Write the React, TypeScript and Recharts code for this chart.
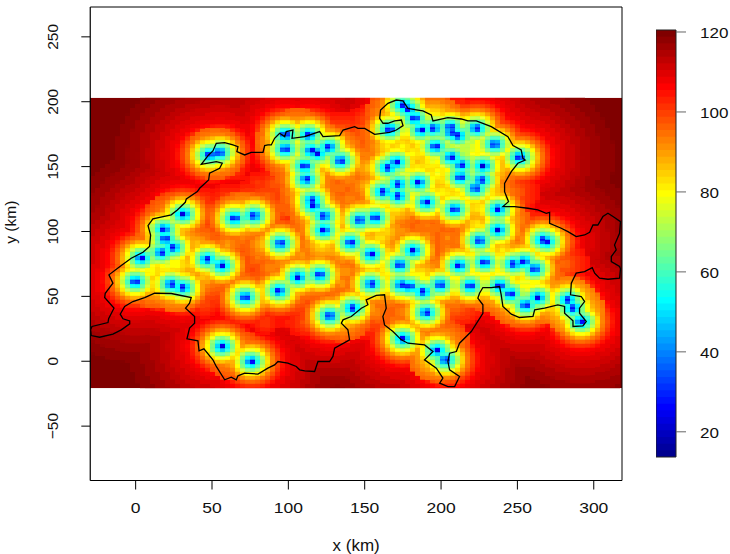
import React from "react";
import { ScatterChart, Scatter, XAxis, YAxis, ReferenceArea } from "recharts";

const outlineX = [-29.5,-28.6,-18.1,-17.7,-14.2,-20.3,-19.9,-14.9,-17.5,-9.4,-2.9,4.8,9.1,9.8,8.1,11.3,23.3,27.3,32.5,33.2,40.4,41.9,47.8,48.4,55.0,56.7,52.8,43.0,47.8,50.6,52.8,58.3,63.7,67.0,66.3,71.4,75.7,83.4,84.5,86.6,88.8,91.0,94.3,97.6,98.6,103.0,102.4,110.7,120.5,122.7,133.6,135.8,143.4,145.6,150.0,156.5,166.3,170.7,175.1,174.0,169.6,165.2,162.0,159.8,160.4,165.2,170.7,175.1,178.3,184.9,188.1,193.6,194.7,204.5,213.2,217.6,223.1,232.9,243.8,247.1,252.5,253.6,255.1,250.3,246.0,241.6,241.6,244.2,240.5,248.2,256.9,263.4,268.9,271.1,271.1,278.7,283.1,288.5,294.0,297.3,299.5,302.7,306.0,309.3,312.6,317.5,316.9,313.6,314.7,311.5,311.5,316.9,317.5,316.9,309.3,303.8,300.6,299.0,294.0,288.5,285.3,284.8,291.8,294.0,290.7,290.7,295.1,292.9,286.4,286.4,280.9,280.9,276.5,267.8,261.3,260.2,251.4,246.0,240.5,239.4,238.3,232.9,227.4,225.2,224.1,227.4,227.4,219.8,212.1,210.0,205.6,204.5,205.6,212.1,208.9,204.5,199.1,201.2,196.9,189.2,194.7,189.2,178.3,174.0,168.5,163.0,161.9,164.1,163.0,157.6,151.0,152.1,147.8,141.2,135.8,134.7,139.0,140.1,130.3,129.2,127.0,119.4,117.2,110.7,107.4,105.2,99.7,93.2,91.0,86.6,80.1,71.4,67.0,65.9,62.6,58.3,52.8,50.6,44.7,41.5,40.8,33.6,35.3,38.6,38.6,32.7,35.3,36.4,23.3,12.4,5.9,-1.8,-7.2,-10.1,-8.3,-3.9,-3.9,-9.4,-14.9,-23.6,-29.1,-29.5];
const outlineY = [24.2,26.8,29.8,32.7,40.9,49.1,52.4,60.2,66.6,73.8,79.4,84.0,88.4,97.3,104.5,109.7,112.8,116.6,122.5,125.1,130.7,133.3,139.7,144.9,148.7,152.6,153.8,151.8,159.0,162.1,168.0,168.5,166.7,165.4,161.5,159.0,161.0,161.0,166.2,166.7,166.7,171.8,175.7,173.1,177.0,178.2,171.8,173.1,177.0,173.1,173.9,178.2,180.8,179.5,179.5,174.9,176.4,178.2,181.6,185.9,185.2,183.4,183.4,187.2,193.6,198.8,201.3,200.6,194.9,193.6,192.9,189.8,185.2,187.7,186.7,185.2,185.2,180.8,173.1,166.2,162.8,156.4,155.1,152.6,146.1,137.1,130.7,123.0,119.2,119.2,117.9,116.6,114.0,114.8,106.3,102.5,99.9,96.1,97.3,99.4,105.0,105.0,111.5,114.0,111.5,107.6,98.6,89.6,85.8,80.7,76.8,73.0,71.2,64.0,63.2,64.0,67.9,72.2,69.1,67.9,60.2,51.2,49.9,46.0,40.9,37.0,30.6,27.3,26.8,31.1,37.0,42.2,43.4,40.9,39.6,34.5,33.7,36.3,42.2,51.2,57.6,56.8,56.8,52.4,48.6,43.5,37.0,22.9,13.9,7.5,6.2,-0.2,-6.6,-11.8,-19.5,-19.5,-16.9,-13.0,-5.3,1.1,7.5,12.6,13.9,16.5,22.9,28.0,34.5,40.9,51.2,50.7,47.3,43.5,40.9,34.5,31.9,29.3,24.2,16.5,10.1,3.7,-0.2,-0.2,-7.9,-7.4,-6.6,-4.0,-1.5,-0.2,-2.8,-5.3,-9.9,-9.2,-11.2,-14.3,-12.3,-14.3,-4.0,1.1,9.6,8.0,15.7,17.3,25.5,29.3,34.5,40.9,44.7,49.1,52.2,52.4,49.1,46.0,42.2,36.3,32.7,31.1,28.8,24.2,20.9,18.5,19.8,24.2];

const stationX = [48.4,55,31,18.5,19.4,64.8,77.5,24.6,16.8,3.7,-0.2,23.3,31,46.7,56.5,71.8,56.7,75.7,98,98,113.3,115,118.9,126.4,134.2,110.7,111.7,115.5,116.5,123.3,123.3,94.9,140.8,146.7,156.9,165.2,170.7,171.8,171.8,162,185.3,190.3,175,178.3,182.7,166.3,187,195.1,196.4,206.2,206.7,211,223.1,235.1,206.7,213.2,227.4,212.6,226.3,222.6,208.9,237.2,237.2,225.2,251.4,266.7,268.9,211.7,228.5,247.5,254.3,261.3,219.1,238.3,245.5,255.4,263.4,283.1,286.4,291.8,154.3,172.9,181.6,106.3,120.5,93.8,154.3,173.9,179.4,188.1,199.5,190.3,141.9,127,175,197.3,203];
const stationY = [159,160.8,113.3,101.7,94.3,110.2,112.2,87.6,83.8,79.4,61.4,59.4,56.8,78.6,73.8,49.4,11.4,-0.2,174.4,163.6,174.4,162.3,160.3,164.9,154.6,150.5,140.2,124,120,112,101,90.9,91.4,108.9,110.7,149.2,153.3,136.4,127.4,130.7,137.7,122.5,197.5,194.4,187.2,178.8,178.2,179.5,165.4,180.3,176.4,173.9,179.5,167.2,157.2,151.3,150.5,141.8,139.7,133.3,117.1,117.1,101.2,93,157.2,93.5,92.2,73.8,76.3,75,76.8,71.2,58.1,58.1,51.9,43.4,49.1,47.3,40.9,30.6,82.5,74.3,85.3,64.8,66.6,54.2,59.6,58.9,57.6,53.7,58.9,37.6,40.9,35,17.3,8.3,1.1];

const gapX = [65,80,91,55,45,29,95,134,143,128,152,150,152,150,174,185,196,204,205,190,223,34,80,82,88,108,137,130,73.5,60,45,174,158.6,152,99.7,115,209,217,272,248,258,276,278,250,40,150,160,205,190,185,220,200,240,205,180,165,245,130,100,218,220,200,195,75,85,100,100,70,85,65,40,50,60,45,110,120,95,100,110,140,140,150,135,150,135,145,165,205,215,190,175,215,200,180,150,160,170,210,215,195,270,270,280,250,245,240,85,60,45,85,120,110,135,105,160,140,150,130,135,210];
const gapY = [147,137,136,128,105,124,118,133,125,140,174,160,149,135,110,103,103,95,105,95,118,74,80,64,72,82,69,85,64,90,65,38,38,28,41,47,46,36,66,105,105,70,60,125,90,90,95,130,150,165,165,140,85,65,70,100,130,50,30,165,155,170,155,125,125,130,145,95,95,90,125,115,125,125,75,85,75,95,100,125,140,120,120,95,80,70,65,85,95,105,100,105,115,120,50,50,30,60,50,50,60,80,75,110,100,120,50,50,45,30,40,30,60,50,185,170,185,185,175,190];
const gapLevel = [18.3,18,16.2,19.5,17.2,19.5,15.2,14.3,14,14,14.3,13.5,11.3,12,13.5,14.3,14.3,13.5,14,12.7,10,11.3,14.3,15.2,13.5,12.7,12.7,12,15.2,12.7,11.3,13.5,13.5,17.2,19.5,17,13.5,19.5,14.3,16.2,17,16,17,18,11.3,10.7,10,10,10,10,10,10,10,10,10,10.7,14,14,19.5,7.8,7.5,7.8,8.5,16,15,15,15.5,14,14,14,19,16.5,17,18,13.5,13,13,14,14,13.5,13.5,13,14,12,12.5,13,11,13,13,14,13,13,13,11.5,14,14,14,12,14,12,14.5,13,15,16,14,13,15,16,17,18,15,17,13,14,16,14.5,17,19,15,16];

// Ridges of low values along chains of neighbouring stations.
const ridgeX = [98,106,106,122,130,112,104,111,113,119,123,151,144,147,163,177,165,163,186,192,205,213,220,224,232,242,250,258,255,245,238,238,250,262,231,233,238,223,216,228,215,222,215,220,230,232,220,200,190,200,195,188,205,198,200,210,185,178,170,180,165,170,182,175,165,175,170,20,12,28,26,15,10,25,25,51,38,27,12,52,70,100,113,85,133,122,135,65,288,283,198,200,178];
const ridgeY = [169,175,163,163,160,156,157,145,132,116,106,110,100,87,78,80,70,60,65,57,58,65,75,66,58,55,47,47,60,65,68,75,75,60,85,96,108,105,165,165,160,155,145,130,130,150,170,172,172,160,185,185,150,145,130,125,145,145,143,130,140,120,160,165,165,190,190,75,82,90,75,60,70,100,110,76,76,58,60,160,111,60,66,90,90,90,35,5,38,45,4,13,23];
const ridgeLevel = [8.5,9,8.5,8,8.5,9,9.5,9,9,8.5,8.5,8.5,9,9.5,8.5,8.5,9,8.5,9,8,9,9,9.5,9,8.5,8,8.5,8,8.5,9,9,9,8,9,9,9,8.5,10,7.5,8,7.5,8,8,9,9,8.5,8,8,8.5,8,8,8,8.5,9,9.5,9,8.5,8.5,8,8.5,8.5,9,9.5,9.5,10,8.5,9.5,8.5,9,9,9,9,9,9.5,10,8.5,10,8,10,8.5,8.5,10,9,11,11,10,9,10,7.5,7,8,10,11];

const fieldColors = ["#8F0000","#9F0000","#AF0000","#BF0000","#CF0000","#DF0000","#EF0000","#FF0000","#FF1000","#FF2000","#FF3000","#FF4000","#FF5000","#FF6000","#FF7000","#FF8000","#FF9000","#FFA000","#FFB000","#FFC000","#FFD000","#FFE000","#FFF000","#FFFF00","#DFFF20","#BFFF40","#9FFF60","#80FF80","#60FF9F","#40FFBF","#20FFDF","#00FFFF","#00BFFF","#0080FF","#0040FF","#0000FF","#0000CF"];
const fieldReachKm = [62,54,47,41,36,31,26.5,23,21.5,20.5,19.4,18.3,17.4,16.5,15.5,14.5,13.8,13.2,12.6,12,11.5,11,10.5,10,9.3,8.7,8,7.2,6.2,5.4,4.7,4.1,3.3,2.5,2,1.4,0.8];
const GAP_FIRST_COLOR = 8;

const barColors = ["#00008F","#00009F","#0000AF","#0000BF","#0000CF","#0000DF","#0000EF","#0000FF","#0010FF","#0020FF","#0030FF","#0040FF","#0050FF","#0060FF","#0070FF","#0080FF","#008FFF","#009FFF","#00AFFF","#00BFFF","#00CFFF","#00DFFF","#00EFFF","#00FFFF","#10FFEF","#20FFDF","#30FFCF","#40FFBF","#50FFAF","#60FF9F","#70FF8F","#80FF80","#8FFF70","#9FFF60","#AFFF50","#BFFF40","#CFFF30","#DFFF20","#EFFF10","#FFFF00","#FFEF00","#FFDF00","#FFCF00","#FFBF00","#FFAF00","#FF9F00","#FF8F00","#FF8000","#FF7000","#FF6000","#FF5000","#FF4000","#FF3000","#FF2000","#FF1000","#FF0000","#EF0000","#DF0000","#CF0000","#BF0000","#AF0000","#9F0000","#8F0000","#800000"];
const barMin = 13.7;
const barMax = 120.5;

const xTicks = [0,50,100,150,200,250,300];
const yTicks = [-50,0,50,100,150,200,250];
const barTicks = [20,40,60,80,100,120];

const stations = stationX.map((x, i) => ({ x, y: stationY[i] }));
const gaps = [
  ...gapX.map((x, i) => ({ x, y: gapY[i], level: gapLevel[i] })),
  ...ridgeX.map((x, i) => ({ x, y: ridgeY[i], level: ridgeLevel[i] })),
];
const outline = outlineX.map((x, i) => ({ x, y: outlineY[i] }));
const barRange = [{ x: 0, y: barMin }, { x: 1, y: barMax }];

const PX_PER_KM_X = 1.527;
const PX_PER_KM_Y = 1.298;
const GAP_SPREAD = 2.6;
const GAP_MAX_R = 20;
const FONT = "'Liberation Sans', Arial, sans-serif";
const FIELD_LAYER = 300;

const XTick = (p: any) => (
  <text transform={`translate(${p.x},${p.y + 21}) scale(1.13,1)`} textAnchor="middle" fontFamily={FONT} fontSize={15.5} fill="#111">{p.payload.value}</text>
);
const YTick = (p: any) => (
  <text transform={`translate(${p.x - 21},${p.y}) rotate(-90)`} textAnchor="middle" fontFamily={FONT} fontSize={15.5} fill="#111">
    {String(p.payload.value).replace("-", "\u2212")}
  </text>
);
const BarTick = (p: any) => (
  <text transform={`translate(${p.x + 12},${p.y + 6}) scale(1.1,1)`} textAnchor="start" fontFamily={FONT} fontSize={15.5} fill="#111">{p.payload.value}</text>
);

export default function App() {
  return (
    <div style={{ position: "absolute", left: 0, top: 0, width: 730, height: 554, background: "#fff" }}>
      <style>{`.recharts-zIndex-layer_${FIELD_LAYER} { filter: url(#cells); }`}</style>
      <div style={{ position: "absolute", left: 0, top: 0 }}>
        <ScatterChart width={730} height={554} margin={{ top: 7, right: 108, bottom: 0, left: 0 }}>
          <defs>
            <filter id="cells" filterUnits="userSpaceOnUse" x="0" y="0" width="730" height="554" colorInterpolationFilters="sRGB">
              <feFlood x="2" y="1" width="1" height="2" floodColor="#000" />
              <feComposite width="5" height="4" />
              <feTile result="grid" />
              <feComposite in="SourceGraphic" in2="grid" operator="in" />
              <feMorphology operator="dilate" radius="2 1" />
            </filter>
          </defs>
          <XAxis type="number" dataKey="x" domain={[-29.7, 318.5]} ticks={xTicks} allowDataOverflow height={73.5}
            tick={<XTick />} tickSize={9} axisLine={{ stroke: "#000" }} tickLine={{ stroke: "#000" }} interval={0}
            label={{ value: "x (km)", position: "insideBottom", offset: 2, fontFamily: FONT, fontSize: 17, fill: "#111", dy: -1 }} />
          <YAxis type="number" dataKey="y" domain={[-91.9, 273]} ticks={yTicks} allowDataOverflow width={90.3}
            tick={<YTick />} tickSize={9} axisLine={{ stroke: "#000" }} tickLine={{ stroke: "#000" }} interval={0}
            label={{ value: "y (km)", angle: -90, position: "insideLeft", offset: 10, fontFamily: FONT, fontSize: 15.5, fill: "#111" }} />
          <ReferenceArea x1={-29.7} x2={318.5} y1={-20.8} y2={203} fill="#800000" fillOpacity={1} stroke="none" />
          {fieldColors.map((color, i) => (
            <Scatter key={color} data={stations} isAnimationActive={false} zIndex={FIELD_LAYER}
              shape={(p: any) => (
                <ellipse cx={p.cx} cy={p.cy} rx={fieldReachKm[i] * PX_PER_KM_X} ry={fieldReachKm[i] * PX_PER_KM_Y} fill={color} />
              )} />
          )).flatMap((el, i) => i < GAP_FIRST_COLOR ? [el] : [
            <Scatter key={`gap-${i}`} data={gaps} isAnimationActive={false} zIndex={FIELD_LAYER}
              shape={(p: any) => {
                const level = p.level ?? p.payload?.level ?? 99;
                const r = Math.min(GAP_MAX_R, Math.max(0, (fieldReachKm[i] - level) * GAP_SPREAD));
                return <ellipse cx={p.cx} cy={p.cy} rx={r * PX_PER_KM_X} ry={r * PX_PER_KM_Y} fill={fieldColors[i]} />;
              }} />,
            el,
          ])}
          <ReferenceArea x1={-29.7} x2={318.5} y1={203} y2={273} fill="#fff" fillOpacity={1} stroke="none" zIndex={1000} />
          <ReferenceArea x1={-29.7} x2={318.5} y1={-91.9} y2={-20.8} fill="#fff" fillOpacity={1} stroke="none" zIndex={1000} />
          <Scatter data={outline} isAnimationActive={false} zIndex={1100} line={{ stroke: "#000", strokeWidth: 1.3 }} shape={() => null} />
          <ReferenceArea x1={-29.7} x2={318.5} y1={-91.9} y2={273} fill="none" stroke="#000" strokeWidth={1} zIndex={1200} />
        </ScatterChart>
      </div>
      <div style={{ position: "absolute", left: 656, top: 20 }}>
        <ScatterChart width={74} height={447} margin={{ top: 10, right: 0, bottom: 10, left: 0 }}>
          <XAxis type="number" dataKey="x" domain={[0, 1]} hide />
          <YAxis type="number" dataKey="y" orientation="right" domain={[barMin, barMax]} ticks={barTicks} width={54} interval={0}
            tick={<BarTick />} tickSize={10} axisLine={false} tickLine={{ stroke: "#666" }} />
          <Scatter data={barRange} isAnimationActive={false} shape={() => null} />
          {barColors.map((c, i) => (
            <ReferenceArea key={c} x1={0} x2={1}
              y1={barMin + (i * (barMax - barMin)) / barColors.length}
              y2={barMax}
              fill={c} fillOpacity={1} stroke="none" />
          ))}
          <ReferenceArea x1={0} x2={1} y1={barMin} y2={barMax} fill="none" stroke="#222" strokeWidth={1} />
        </ScatterChart>
      </div>
    </div>
  );
}
